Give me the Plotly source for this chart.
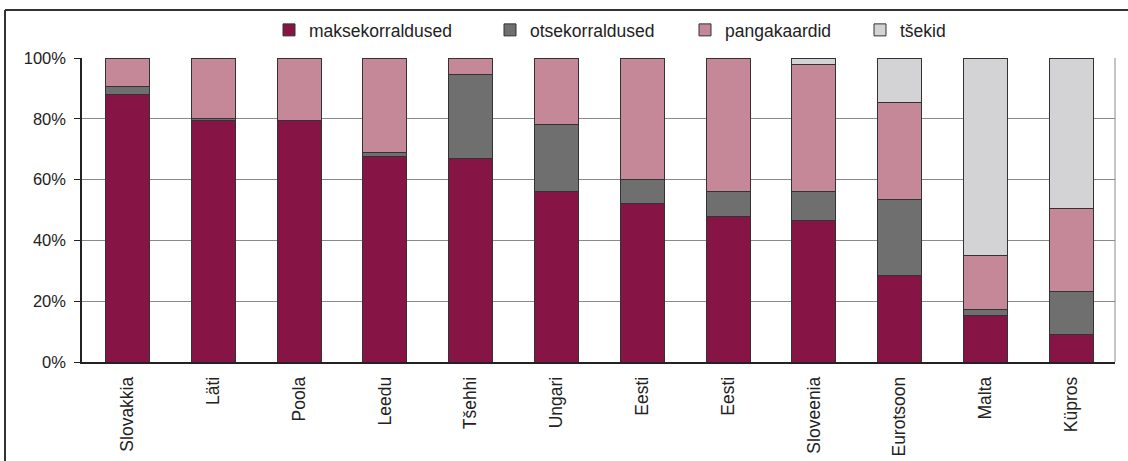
import plotly.graph_objects as go

categories = ["Slovakkia", "Läti", "Poola", "Leedu", "Tšehhi", "Ungari", "Eesti", "Eesti",
              "Sloveenia", "Eurotsoon", "Malta", "Küpros"]
maksekorraldused = [88.0, 79.5, 79.3, 67.5, 67.0, 56.0, 52.0, 48.0, 46.7, 28.3, 15.2, 9.2]
otsekorraldused = [2.5, 0.7, 0.3, 1.5, 27.7, 22.2, 8.0, 8.0, 9.3, 25.2, 2.0, 13.9]
pangakaardid = [9.5, 19.8, 20.4, 31.0, 5.3, 21.8, 40.0, 44.0, 42.0, 32.0, 17.7, 27.4]
tsekid = [0.0, 0.0, 0.0, 0.0, 0.0, 0.0, 0.0, 0.0, 2.0, 14.5, 65.1, 49.5]
y_ticks = [0, 20, 40, 60, 80, 100]
y_tick_labels = ["0%", "20%", "40%", "60%", "80%", "100%"]

series = [
    ("maksekorraldused", maksekorraldused, "#861445"),
    ("otsekorraldused", otsekorraldused, "#6f6f6f"),
    ("pangakaardid", pangakaardid, "#c48899"),
    ("tšekid", tsekid, "#d3d3d5"),
]

positions = list(range(len(categories)))

W, H = 1128, 461
L, R, T, B = 82, 13, 58, 99
pw, ph = W - L - R, H - T - B

def px_x(px):
    return (px - L) / pw

def px_y(py):
    return 1 - (py - T) / ph

FONT = "Liberation Sans, Arial, sans-serif"
legend_names = ["legend", "legend2", "legend3", "legend4"]
legend_px = [285, 506, 701, 876]

fig = go.Figure()
for (name, vals, color), lg in zip(series, legend_names):
    fig.add_trace(go.Bar(
        x=positions, y=vals, name=name, legend=lg,
        marker=dict(color=color, line=dict(color="#333333", width=1)),
    ))

layout_legends = {}
for lg, lx in zip(legend_names, legend_px):
    layout_legends[lg] = dict(
        orientation="h", x=px_x(lx - 16), xanchor="left", y=px_y(30), yanchor="middle",
        font=dict(family=FONT, size=17.5, color="#222222"),
        itemwidth=30, bgcolor="rgba(0,0,0,0)",
    )

fig.update_layout(
    width=W, height=H,
    barmode="stack", bargap=0.487,
    margin=dict(l=L, r=R, t=T, b=B, pad=0, autoexpand=False),
    paper_bgcolor="white", plot_bgcolor="white",
    font=dict(family=FONT, size=16, color="#222222"),
    showlegend=True,
    xaxis=dict(
        tickmode="array", tickvals=positions, ticktext=categories,
        tickangle=-90, range=[-0.53, len(categories) - 0.49],
        showgrid=False, zeroline=False, ticks="", automargin=False,
        showline=True, linecolor="#222222", linewidth=1.5,
        tickfont=dict(family=FONT, size=17.5, color="#222222"),
        ticklabelstandoff=6,
    ),
    yaxis=dict(
        range=[0, 100], tickmode="array", tickvals=y_ticks, ticktext=y_tick_labels,
        showgrid=True, gridcolor="#8a8a8a", gridwidth=1, automargin=False,
        zeroline=False, showline=True, linecolor="#222222", linewidth=1.5,
        ticks="outside", ticklen=6, tickcolor="#222222",
        tickfont=dict(family=FONT, size=16.5, color="#222222"),
        ticklabelstandoff=5,
    ),
    shapes=[
        # right border of plot area
        dict(type="line", xref="paper", yref="paper", x0=1, x1=1, y0=0, y1=1,
             line=dict(color="#8a8a8a", width=1)),
        # outer frame (left & top)
        dict(type="line", xref="paper", yref="paper",
             x0=px_x(5), x1=px_x(5), y0=px_y(10), y1=px_y(470),
             line=dict(color="#333333", width=2)),
        dict(type="line", xref="paper", yref="paper",
             x0=px_x(5), x1=px_x(1135), y0=px_y(10), y1=px_y(10),
             line=dict(color="#333333", width=2)),
    ],
    **layout_legends,
)

fig.write_html("out.html", config={"displayModeBar": False},
               post_script="document.body.style.margin='0';")
